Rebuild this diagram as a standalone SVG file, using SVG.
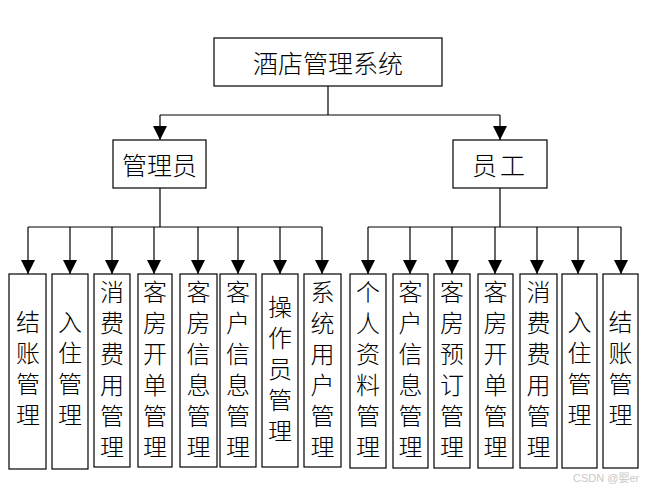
<svg xmlns="http://www.w3.org/2000/svg" width="650" height="492" viewBox="0 0 650 492">
<style>
.box{fill:#fff;stroke:#000;stroke-width:1.2}
.ln{fill:none;stroke:#000;stroke-width:1.2}
.ar{fill:none;stroke:#000;stroke-width:1.2;marker-end:url(#ah)}
.t{font-family:"Noto Sans CJK SC","Noto Sans",sans-serif;font-size:25px;fill:#000;text-anchor:middle;dominant-baseline:central;font-weight:300}
.v{font-family:"Noto Sans CJK SC","Noto Sans",sans-serif;font-size:24px;fill:#000;text-anchor:middle;font-weight:300;writing-mode:vertical-rl;letter-spacing:7px}
.wm{font-family:"Liberation Sans","Noto Sans CJK SC",sans-serif;font-size:11px;fill:#c8c8c8}
</style>
<defs>
<marker id="ah" viewBox="0 0 14 14" refX="14" refY="7" markerWidth="14" markerHeight="14" markerUnits="userSpaceOnUse" orient="auto">
<path d="M0,0 L14,7 L0,14 z" fill="#000"/>
</marker>
</defs>
<rect width="650" height="492" fill="#fff"/>
<g id="connectors">
<path class="ln" d="M328,86 V115 M160,115 H500"/>
<path class="ar" d="M160,115 V140"/>
<path class="ar" d="M500,115 V140"/>
<path class="ln" d="M160,188 V227 M28,227 H322"/>
<path class="ar" d="M28,227 V274"/>
<path class="ar" d="M70,227 V274"/>
<path class="ar" d="M112,227 V274"/>
<path class="ar" d="M154,227 V274"/>
<path class="ar" d="M198,227 V274"/>
<path class="ar" d="M238,227 V274"/>
<path class="ar" d="M280,227 V274"/>
<path class="ar" d="M322,227 V274"/>
<path class="ln" d="M500,188 V227 M368,227 H621"/>
<path class="ar" d="M368,227 V274"/>
<path class="ar" d="M410,227 V274"/>
<path class="ar" d="M452,227 V274"/>
<path class="ar" d="M495,227 V274"/>
<path class="ar" d="M537,227 V274"/>
<path class="ar" d="M578,227 V274"/>
<path class="ar" d="M621,227 V274"/>
</g>
<g id="root"><rect class="box" x="214" y="38" width="228" height="48"/><text class="t" x="328" y="62">酒店管理系统</text></g>
<g id="admin"><rect class="box" x="113" y="140" width="93" height="48"/><text class="t" x="159.5" y="164">管理员</text></g>
<g id="staff"><rect class="box" x="453" y="140" width="94" height="48"/><text class="t" x="500" y="164" letter-spacing="3">员工</text></g>

<g id="a1"><rect class="box" x="9" y="274" width="37" height="195"/><text class="v" x="28" y="371.5">结账管理</text></g>
<g id="a2"><rect class="box" x="52" y="274" width="36" height="195"/><text class="v" x="70" y="371.5">入住管理</text></g>
<g id="a3"><rect class="box" x="94" y="274" width="36" height="193"/><text class="v" x="112" y="372.5">消费费用管理</text></g>
<g id="a4"><rect class="box" x="138" y="274" width="34" height="193"/><text class="v" x="155" y="372.5">客房开单管理</text></g>
<g id="a5"><rect class="box" x="180" y="274" width="37" height="193"/><text class="v" x="198.5" y="372.5">客房信息管理</text></g>
<g id="a6"><rect class="box" x="220" y="274" width="36" height="193"/><text class="v" x="238" y="372.5">客户信息管理</text></g>
<g id="a7"><rect class="box" x="262" y="274" width="36" height="193"/><text class="v" x="280" y="372">操作员管理</text></g>
<g id="a8"><rect class="box" x="304" y="274" width="37" height="193"/><text class="v" x="322.5" y="372.5">系统用户管理</text></g>

<g id="s1"><rect class="box" x="350" y="274" width="36" height="194"/><text class="v" x="368" y="372.5">个人资料管理</text></g>
<g id="s2"><rect class="box" x="393" y="274" width="35" height="194"/><text class="v" x="410.5" y="372.5">客户信息管理</text></g>
<g id="s3"><rect class="box" x="434" y="274" width="36" height="194"/><text class="v" x="452" y="372.5">客房预订管理</text></g>
<g id="s4"><rect class="box" x="478" y="274" width="35" height="194"/><text class="v" x="495.5" y="372.5">客房开单管理</text></g>
<g id="s5"><rect class="box" x="520" y="274" width="37" height="194"/><text class="v" x="538.5" y="372.5">消费费用管理</text></g>
<g id="s6"><rect class="box" x="562" y="274" width="35" height="194"/><text class="v" x="579.5" y="371.5">入住管理</text></g>
<g id="s7"><rect class="box" x="603" y="274" width="35" height="194"/><text class="v" x="620.5" y="371.5">结账管理</text></g>

<text class="wm" x="573" y="482">CSDN @婴er</text>
</svg>
